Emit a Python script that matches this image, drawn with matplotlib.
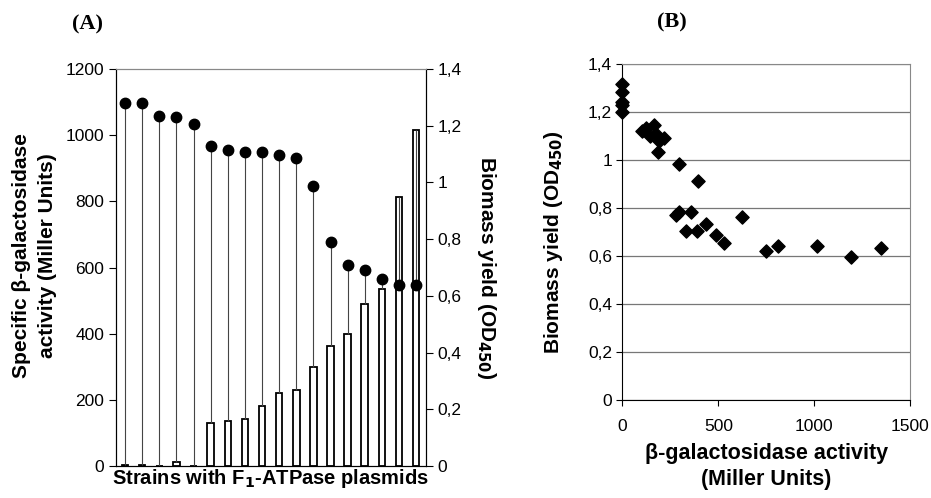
import numpy as np
import matplotlib.pyplot as plt

plt.rcParams['font.family'] = ['Liberation Sans', 'DejaVu Sans']

# Panel A: one entry per strain
activity = [2, 3, 0, 12, 0, 131, 136, 141, 180, 222, 230, 298, 364, 398, 490, 536, 812, 1016]
biomass = [1.279, 1.279, 1.235, 1.232, 1.206, 1.128, 1.113, 1.108, 1.108, 1.096,
           1.086, 0.986, 0.789, 0.709, 0.692, 0.659, 0.640, 0.640]

# Panel B: scatter of activity vs biomass
b_activity = [0, 0, 0, 0, 0, 100, 125, 145, 165, 175, 190, 215, 185,
              294, 395, 277, 296, 357, 334, 390, 435, 486, 531, 623,
              748, 813, 1016, 1191, 1350]
b_biomass = [1.315, 1.285, 1.24, 1.23, 1.20, 1.12, 1.135, 1.10, 1.145, 1.11, 1.08, 1.09, 1.035,
             0.982, 0.914, 0.771, 0.785, 0.785, 0.704, 0.705, 0.733, 0.688, 0.656, 0.764,
             0.621, 0.642, 0.642, 0.597, 0.632]

tick_lbl = ["0", "0,2", "0,4", "0,6", "0,8", "1", "1,2", "1,4"]

fig = plt.figure(figsize=(9.31, 4.98), dpi=100)

# ---- panel A ----
ax = fig.add_axes([0.1246, 0.0643, 0.333, 0.797])
x = np.arange(len(activity))
ax.bar(x, activity, width=0.38, color="white", edgecolor="black", linewidth=1.3, zorder=2)
ax.set_xlim(-0.53, 17.58)
ax.set_ylim(0, 1200)
ax.set_yticks(range(0, 1201, 200))
ax.set_xticks([])
ax.tick_params(axis="y", labelsize=12.5, direction="out", length=5)
ax.spines["top"].set_color("#888888")
ax.set_ylabel("Specific β-galactosidase\nactivity (Miller Units)", fontsize=15,
              fontweight="bold", linespacing=1.45)
ax.yaxis.set_label_coords(-0.19, 0.53)
ax.set_xlabel("Strains with F$_\\mathbf{1}$-ATPase plasmids", fontsize=14.5,
              fontweight="bold", labelpad=1)

ax2 = ax.twinx()
ax2.set_ylim(0, 1.4)
ax2.set_yticks(np.arange(0, 1.41, 0.2))
ax2.set_yticklabels(tick_lbl)
ax2.tick_params(axis="y", labelsize=12.5, direction="out", length=5)
ax2.spines["top"].set_color("#888888")
# stem from bar top (converted to right-axis units) up to the dot
bar_top = np.array(activity) / 1200 * 1.4
ax2.vlines(x, bar_top, biomass, color="#444444", linewidth=0.8, zorder=1)
ax2.plot(x, biomass, "o", color="black", markersize=7.5, zorder=3)
ax2.set_ylabel("Biomass yield (OD$_\\mathbf{450}$)", fontsize=15, fontweight="bold",
               rotation=270, labelpad=26)

# ---- panel B ----
bx = fig.add_axes([0.6686, 0.1968, 0.3088, 0.6747])
bx.scatter(b_activity, b_biomass, marker="D", s=45, color="black", zorder=3, clip_on=False)
bx.set_xlim(0, 1500)
bx.set_ylim(0, 1.4)
bx.set_xticks([0, 500, 1000, 1500])
bx.set_yticks(np.arange(0, 1.41, 0.2))
bx.set_yticklabels(tick_lbl)
bx.grid(axis="y", color="#777777", linewidth=0.9)
bx.set_axisbelow(True)
bx.tick_params(labelsize=12.5, direction="out", length=4)
bx.tick_params(axis="x", pad=10)
for s in ["top", "right"]:
    bx.spines[s].set_color("#888888")
bx.set_xlabel("β-galactosidase activity\n(Miller Units)", fontsize=15.5, fontweight="bold",
              labelpad=6, linespacing=1.3)
bx.set_ylabel("Biomass yield (OD$_\\mathbf{450}$)", fontsize=15, fontweight="bold", labelpad=9)
bx.yaxis.set_label_coords(-0.2, 0.47)

fig.text(0.0945, 0.95, "(A)", family="Liberation Serif", fontweight="bold", fontsize=16,
         ha="center", va="center")
fig.text(0.7220, 0.955, "(B)", family="Liberation Serif", fontweight="bold", fontsize=16,
         ha="center", va="center")

fig.savefig("out.png", dpi=100)
